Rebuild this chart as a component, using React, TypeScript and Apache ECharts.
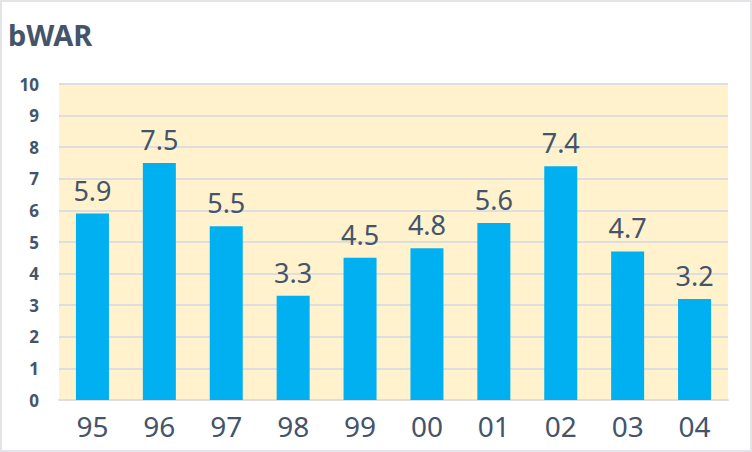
import React, { useEffect, useRef } from "react";
import * as echarts from "echarts";

const categories = ["95", "96", "97", "98", "99", "00", "01", "02", "03", "04"];
const bwar = [5.9, 7.5, 5.5, 3.3, 4.5, 4.8, 5.6, 7.4, 4.7, 3.2];
const titleText = "bWAR";

const TEXT = "#44546A";
const FONT = "'Noto Sans', 'Open Sans', sans-serif";

export default function App() {
  const ref = useRef<HTMLDivElement>(null);
  useEffect(() => {
    if (!ref.current) return;
    const chart = echarts.init(ref.current, undefined, { renderer: "svg" });
    chart.setOption({
      animation: false,
      backgroundColor: "#ffffff",
      title: {
        text: titleText,
        left: 6,
        top: 18,
        padding: 0,
        textStyle: { fontFamily: FONT, fontSize: 29, fontWeight: "bold", color: TEXT },
      },
      grid: {
        left: 57,
        top: 82,
        width: 669,
        height: 316,
        show: true,
        backgroundColor: "#FFF2CC",
        borderWidth: 0,
      },
      xAxis: {
        type: "category",
        data: categories,
        axisLine: { show: true, lineStyle: { color: "#DEDEDE", width: 2 } },
        axisTick: { show: false },
        axisLabel: { color: TEXT, fontFamily: FONT, fontSize: 28, margin: 12 },
      },
      yAxis: {
        type: "value",
        min: 0,
        max: 10,
        interval: 1,
        axisLine: { show: false },
        axisTick: { show: false },
        splitLine: { lineStyle: { color: "#DEDEDE", width: 2 } },
        axisLabel: { color: TEXT, fontFamily: FONT, fontSize: 17, fontWeight: "bold", margin: 20 },
      },
      series: [
        {
          type: "bar",
          data: bwar,
          barWidth: 33,
          itemStyle: { color: "#00B0F0" },
          label: {
            show: true,
            position: "top",
            distance: 10,
            color: TEXT,
            fontFamily: FONT,
            fontSize: 27,
            formatter: (p: any) => p.value.toFixed(1),
          },
        },
      ],
    });
    return () => chart.dispose();
  }, []);
  return (
    <div
      style={{
        position: "absolute",
        left: 0,
        top: 0,
        width: 752,
        height: 452,
        boxSizing: "border-box",
        border: "2px solid #E3E3E8",
        background: "#fff",
      }}
    >
      <div ref={ref} style={{ width: 748, height: 448 }} />
    </div>
  );
}
